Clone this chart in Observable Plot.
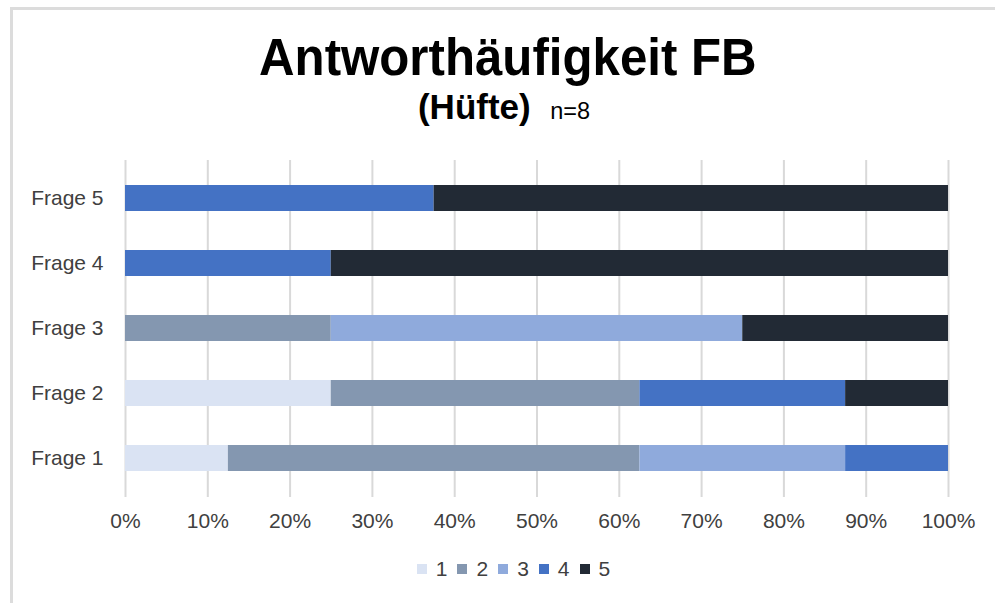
<!DOCTYPE html>
<html>
<head>
<meta charset="utf-8">
<script src="https://cdn.jsdelivr.net/npm/d3@7"></script>
<script src="https://cdn.jsdelivr.net/npm/@observablehq/plot@0.6"></script>
<style>
  html, body { margin: 0; padding: 0; background: #fff; }
  #wrap { position: relative; width: 995px; height: 603px; overflow: hidden; font-family: "Liberation Sans", Arial, sans-serif; }
  #border { position: absolute; left: 10px; top: 7px; width: 990px; height: 610px; border-left: 3px solid #dcdcdc; border-top: 3px solid #dcdcdc; box-sizing: border-box; }
  #title { position: absolute; left: 0; width: 1016px; top: 32px; text-align: center; font-weight: bold; font-size: 51px; color: #000; line-height: 1; white-space: nowrap; }
  #title span { display: inline-block; transform: scaleX(0.965); }
  #subtitle { position: absolute; left: 0; width: 1008px; top: 89px; text-align: center; color: #000; font-size: 34px; line-height: 1; white-space: nowrap; }
  #subtitle b { font-size: 35px; }
  #subtitle small { font-size: 23.5px; margin-left: 10px; }
  #chart { position: absolute; left: 0; top: 0; }
  #legend { position: absolute; top: 556px; left: 0; width: 1027px; text-align: center; font-size: 21px; color: #404040; line-height: 1.2; }
  #legend .item { display: inline-block; margin: 0 5px; }
  #legend .sw { display: inline-block; width: 10px; height: 10px; margin-right: 9px; vertical-align: 2px; }
</style>
</head>
<body>
<div id="wrap">
  <div id="border"></div>
  <div id="chart"></div>
  <div id="title"><span>Antworthäufigkeit FB</span></div>
  <div id="subtitle"><b>(Hüfte)</b> <small>n=8</small></div>
  <div id="legend"></div>
</div>
<script>
const categories = ["Frage 1", "Frage 2", "Frage 3", "Frage 4", "Frage 5"];
const answers = ["1", "2", "3", "4", "5"];
const answer1 = [12.5, 25, 0, 0, 0];
const answer2 = [50, 37.5, 25, 0, 0];
const answer3 = [25, 0, 50, 0, 0];
const answer4 = [12.5, 25, 0, 25, 37.5];
const answer5 = [0, 12.5, 25, 75, 62.5];
const colors = ["#dae3f3", "#8497b0", "#8faadc", "#4472c4", "#222a35"];
const xTicks = [0, 10, 20, 30, 40, 50, 60, 70, 80, 90, 100];

const series = [answer1, answer2, answer3, answer4, answer5];
const data = [];
categories.forEach((c, i) => {
  answers.forEach((a, j) => {
    data.push({frage: c, answer: a, value: series[j][i]});
  });
});

const chart = Plot.plot({
  width: 995,
  height: 603,
  marginTop: 164,
  marginBottom: 111,
  marginLeft: 125,
  marginRight: 47,
  style: {fontFamily: "'Liberation Sans', Arial, sans-serif", background: "transparent"},
  x: {domain: [0, 100]},
  y: {domain: categories.slice().reverse(), paddingInner: 0.6, paddingOuter: 0.3},
  color: {domain: answers, range: colors},
  marks: [
    Plot.ruleX(xTicks, {stroke: "#d9d9d9", strokeWidth: 2, insetTop: -4, insetBottom: -5}),
    Plot.barX(data, Plot.stackX({x: "value", y: "frage", fill: "answer", order: null})),
    Plot.axisX({ticks: xTicks, tickFormat: d => d + "%", tickSize: 0, tickPadding: 21, fontSize: 21, fill: "#404040", label: null}),
    Plot.axisY({tickSize: 0, tickPadding: 22, fontSize: 21, fill: "#404040", label: null})
  ]
});
document.getElementById("chart").appendChild(chart);

const legend = document.getElementById("legend");
answers.forEach((a, j) => {
  const item = document.createElement("span");
  item.className = "item";
  const sw = document.createElement("span");
  sw.className = "sw";
  sw.style.background = colors[j];
  item.appendChild(sw);
  item.appendChild(document.createTextNode(a));
  legend.appendChild(item);
});
</script>
</body>
</html>
